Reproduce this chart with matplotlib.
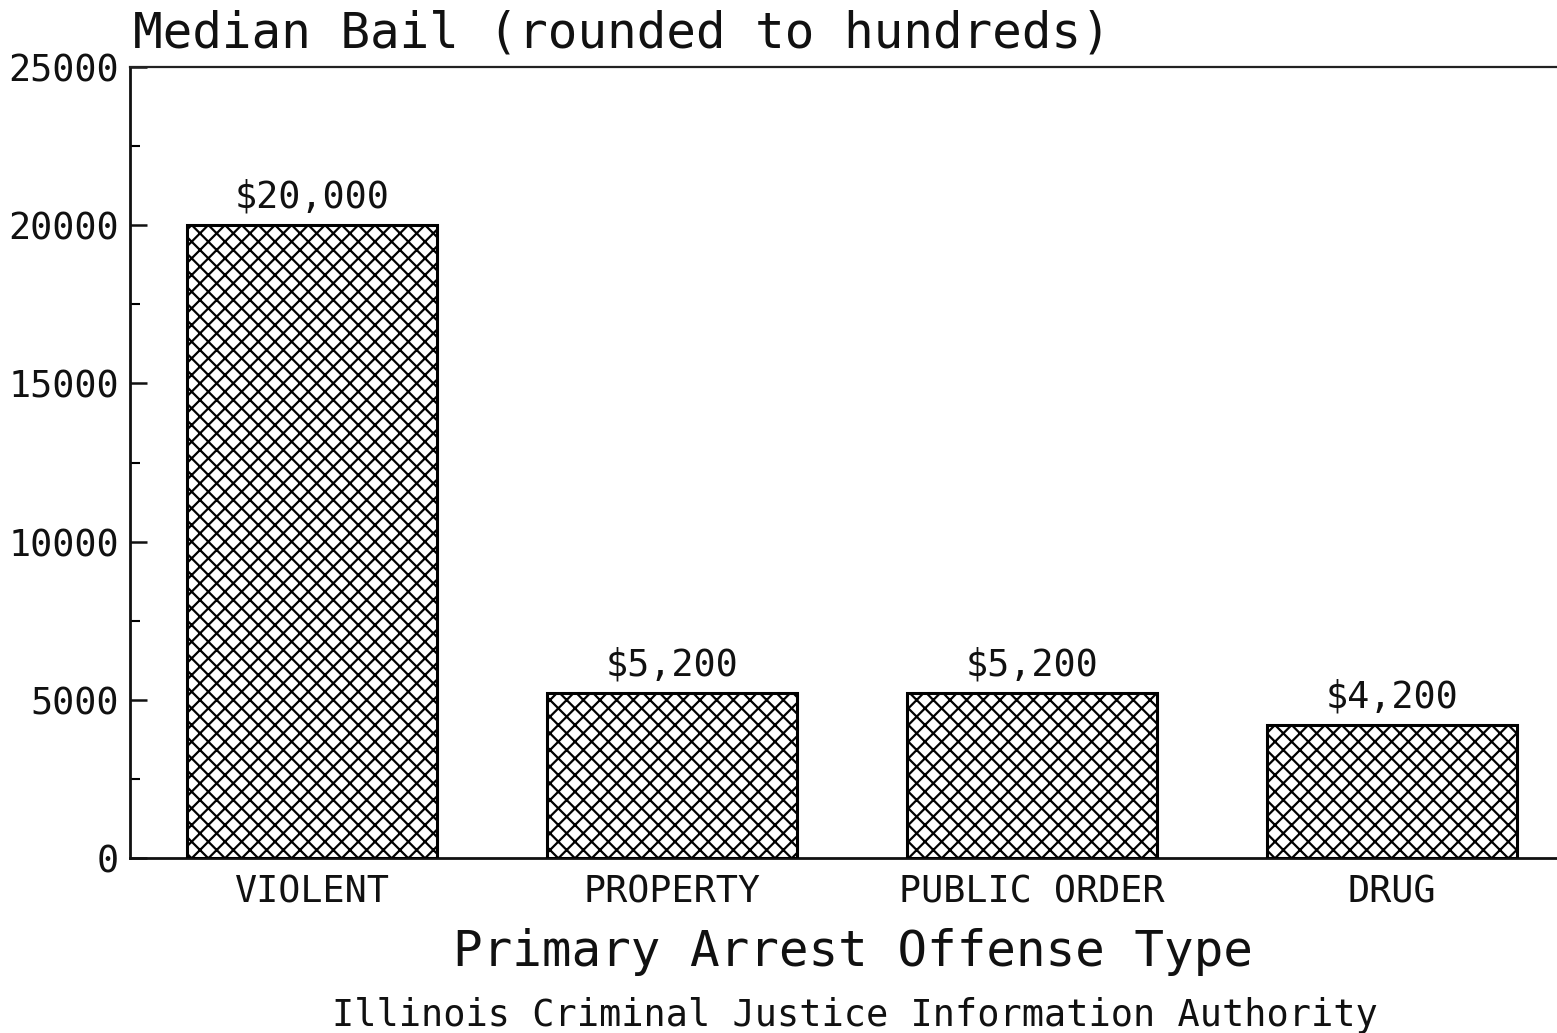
import matplotlib
matplotlib.use("Agg")
import matplotlib.pyplot as plt
from matplotlib.ticker import MultipleLocator

categories = ["VIOLENT", "PROPERTY", "PUBLIC ORDER", "DRUG"]
median_bail = [20000, 5200, 5200, 4200]
value_labels = ["$20,000", "$5,200", "$5,200", "$4,200"]
y_ticks = [0, 5000, 10000, 15000, 20000, 25000]

plt.rcParams['font.family'] = ['DejaVu Sans Mono', 'DejaVu Sans']
plt.rcParams['hatch.linewidth'] = 1.6
plt.rcParams['hatch.color'] = 'black'

W, H = 1557, 1033
fig = plt.figure(figsize=(W / 100, H / 100), dpi=100)
fig.patch.set_facecolor('white')

left, right, top, bottom = 130, 1557, 67, 858
ax = fig.add_axes([left / W, 1 - bottom / H, (right - left) / W, (bottom - top) / H])

x = list(range(len(categories)))
bars = ax.bar(x, median_bail, width=0.694, facecolor='white', edgecolor='black',
              linewidth=2.2, hatch='xx', zorder=3)

for xi, v, lab in zip(x, median_bail, value_labels):
    ax.annotate(lab, (xi, v), xytext=(0, 7), textcoords='offset points',
                ha='center', va='bottom', fontsize=26.5, color='#111111')

ax.set_xlim(-0.506, 3.458)
ax.set_ylim(0, 25000)
ax.set_yticks(y_ticks)
ax.set_yticklabels([str(t) for t in y_ticks])
ax.yaxis.set_minor_locator(MultipleLocator(2500))
ax.set_xticks(x)
ax.set_xticklabels(categories)

ax.tick_params(axis='y', which='major', direction='in', length=12, width=1.8,
               labelsize=26.5, pad=8, colors='#111111')
ax.tick_params(axis='y', which='minor', direction='in', length=7, width=1.5)
ax.tick_params(axis='x', which='both', length=0, labelsize=26.5, pad=11, colors='#111111')

for side in ['left', 'bottom']:
    ax.spines[side].set_linewidth(2.0)
    ax.spines[side].set_color('#111111')
ax.spines['top'].set_linewidth(1.6)
ax.spines['top'].set_color('#222222')
ax.spines['right'].set_visible(False)

fig.text(133 / W, 1 - 47 / H, "Median Bail (rounded to hundreds)", fontsize=35.5,
         ha='left', va='baseline', color='#111111')
fig.text(853 / W, 1 - 966 / H, "Primary Arrest Offense Type", fontsize=35.5,
         ha='center', va='baseline', color='#111111')
fig.text(855 / W, 1 - 1026 / H, "Illinois Criminal Justice Information Authority",
         fontsize=26.6, ha='center', va='baseline', color='#111111')

fig.savefig("out.png", dpi=100, facecolor='white')
